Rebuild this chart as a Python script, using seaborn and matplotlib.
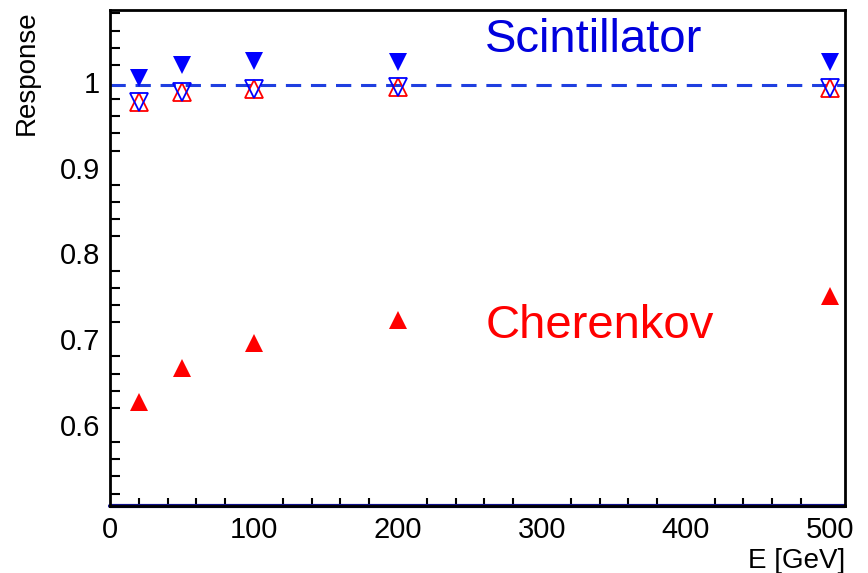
import matplotlib
matplotlib.use("Agg")
import matplotlib.pyplot as plt
import seaborn as sns
import pandas as pd
from matplotlib.ticker import MultipleLocator

# ---- data ----
energy = [20, 50, 100, 200, 500]
cherenkov = [0.627, 0.667, 0.696, 0.722, 0.751]
scint = [1.005, 1.020, 1.024, 1.023, 1.023]
corr_s = [0.977, 0.988, 0.992, 0.994, 0.993]
corr_c = [0.977, 0.988, 0.992, 0.994, 0.993]
ref_level = 0.996
x_ticks = [0, 100, 200, 300, 400, 500]
y_ticks = [0.6, 0.7, 0.8, 0.9, 1.0]
y_tick_labels = ["0.6", "0.7", "0.8", "0.9", "1"]

df = pd.DataFrame({"E": energy, "C": cherenkov, "S": scint,
                   "CS": corr_s, "CC": corr_c})

sns.set_theme(style="white")
plt.rcParams['font.family'] = ['Liberation Sans', 'DejaVu Sans']

fig = plt.figure(figsize=(8.68, 5.73), dpi=100)
ax = fig.add_axes([110/868, 1-506/573, (845-110)/868, (506-10)/573])

BLUE = "#0000ff"
RED = "#ff0000"
ms = 13

ax.axhline(ref_level, color="#1f3fe0", lw=2.2, ls=(0, (5, 3.2)), zorder=1)

sns.lineplot(data=df, x="E", y="C", ax=ax, marker="^", linestyle="none",
             color=RED, markersize=ms, markeredgewidth=0, zorder=3)
sns.lineplot(data=df, x="E", y="S", ax=ax, marker="v", linestyle="none",
             color=BLUE, markersize=ms, markeredgewidth=0, zorder=3)
sns.lineplot(data=df, x="E", y="CC", ax=ax, marker="^", linestyle="none",
             color=RED, markersize=ms, markerfacecolor="none",
             markeredgecolor=RED, markeredgewidth=1.3, zorder=3)
sns.lineplot(data=df, x="E", y="CS", ax=ax, marker="v", linestyle="none",
             color=BLUE, markersize=ms, markerfacecolor="none",
             markeredgecolor=BLUE, markeredgewidth=1.3, zorder=4)

ax.set_xlim(0, 510.5)
ax.set_ylim(0.5055, 1.084)
ax.axhline(0.5055, color="#10108a", lw=3, zorder=2, clip_on=False)

ax.set_xticks(x_ticks)
ax.set_yticks(y_ticks)
ax.set_yticklabels(y_tick_labels)
ax.xaxis.set_minor_locator(MultipleLocator(20))
ax.yaxis.set_minor_locator(MultipleLocator(0.02))
ax.tick_params(which="major", direction="in", labelsize=21, width=1.5,
               color="black", labelcolor="black", top=False, right=False)
ax.tick_params(axis="y", which="major", length=15, pad=7)
ax.tick_params(axis="x", which="major", length=11, pad=7)
ax.tick_params(axis="y", which="minor", direction="in", length=7.5, width=1.5,
               color="black", left=True, right=False)
ax.tick_params(axis="x", which="minor", direction="in", length=5.5, width=1.5,
               color="black", bottom=True, top=False)

for sp in ax.spines.values():
    sp.set_color("black")
    sp.set_linewidth(2)
    sp.set_visible(True)

ax.set_xlabel("")
ax.set_ylabel("")
fig.text(845/868, 1-568/573, "E [GeV]", ha="right", va="baseline",
         fontsize=20, color="black")
fig.text(14/868, 1-10/573, "Response", rotation=90, ha="left", va="top",
         fontsize=20, color="black")

ax.text(260.5, 1.035, "Scintillator", color="#0000dd", fontsize=34,
        ha="left", va="baseline")
ax.text(261, 0.701, "Cherenkov", color=RED, fontsize=34,
        ha="left", va="baseline")

fig.savefig("out.png", dpi=100)
